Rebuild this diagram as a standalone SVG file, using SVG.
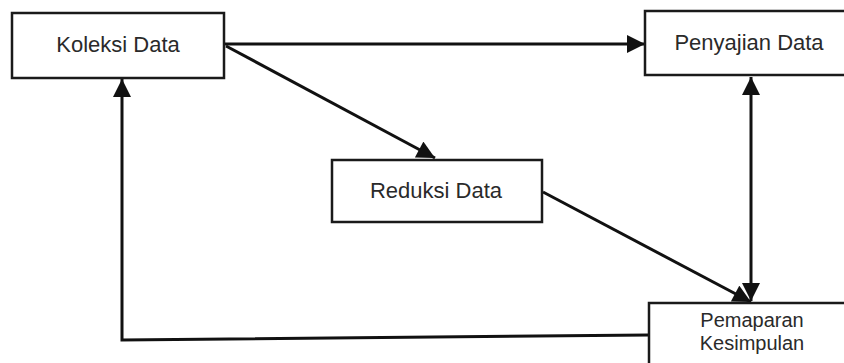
<svg xmlns="http://www.w3.org/2000/svg" width="844" height="363" viewBox="0 0 844 363">
  <style>
    .box { fill: #ffffff; stroke: #1a1a1a; stroke-width: 2.5; }
    .label { font-family: "Liberation Sans", Arial, sans-serif; font-size: 22px; fill: #2a2a2a; text-anchor: middle; }
    .small { font-size: 20px; }
    .edge { fill: none; stroke: #111111; stroke-width: 3; }
  </style>
  <defs>
    <marker id="arrow" viewBox="0 0 10 10" refX="10" refY="5" markerWidth="6.5" markerHeight="6" markerUnits="strokeWidth" orient="auto-start-reverse">
      <path d="M0,0 L10,5 L0,10 Z" fill="#111111"/>
    </marker>
  </defs>
  <rect width="844" height="363" fill="#ffffff"/>

  <g id="connectors">
    <line class="edge" x1="225" y1="44" x2="645" y2="44" marker-end="url(#arrow)"/>
    <line class="edge" x1="226" y1="46" x2="435" y2="158" marker-end="url(#arrow)"/>
    <line class="edge" x1="543" y1="192" x2="751" y2="302" marker-end="url(#arrow)"/>
    <line class="edge" x1="751" y1="77" x2="751" y2="301" marker-start="url(#arrow)" marker-end="url(#arrow)"/>
    <polyline class="edge" points="649,335 122,340 122,79" marker-end="url(#arrow)"/>
  </g>

  <g id="koleksi-data">
    <rect class="box" x="12" y="13" width="212" height="65"/>
    <text class="label" x="118" y="52">Koleksi Data</text>
  </g>

  <g id="penyajian-data">
    <rect class="box" x="645" y="11" width="210" height="64"/>
    <text class="label" x="749" y="50">Penyajian Data</text>
  </g>

  <g id="reduksi-data">
    <rect class="box" x="332" y="160" width="210" height="62"/>
    <text class="label" x="436" y="198">Reduksi Data</text>
  </g>

  <g id="pemaparan-kesimpulan">
    <rect class="box" x="649" y="303" width="210" height="70"/>
    <text class="label small" x="752" y="327">Pemaparan</text>
    <text class="label small" x="752" y="350">Kesimpulan</text>
  </g>
</svg>
